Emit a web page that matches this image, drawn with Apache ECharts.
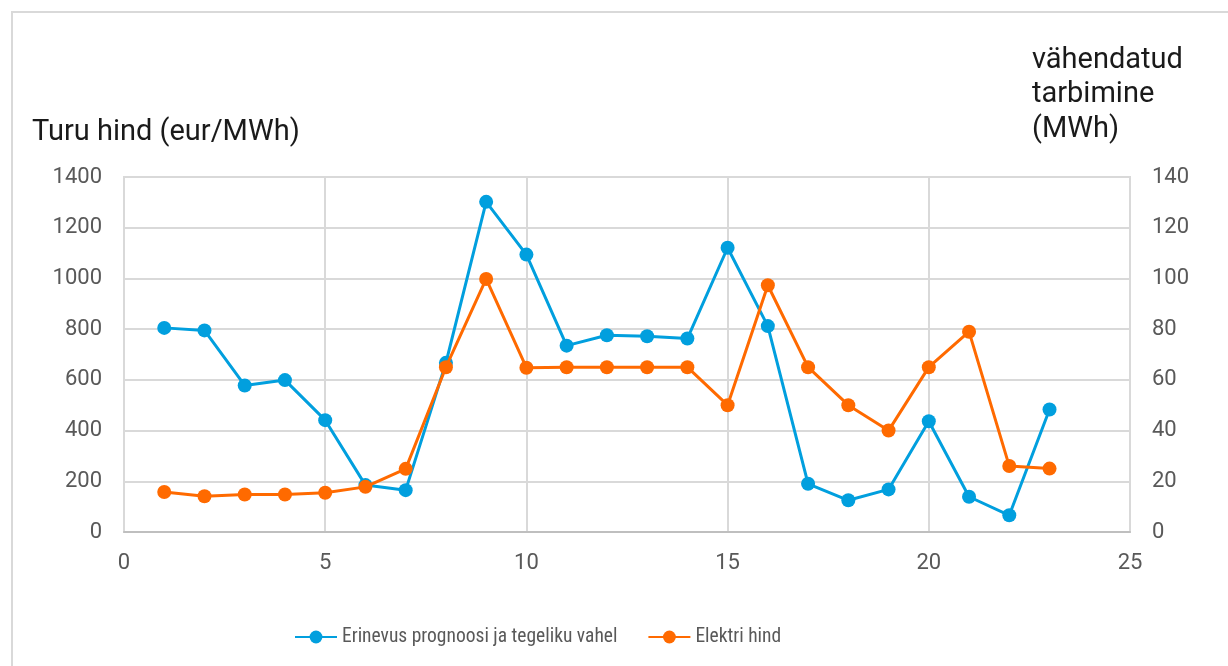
<!DOCTYPE html>
<html>
<head>
<meta charset="utf-8">
<script src="https://cdn.jsdelivr.net/npm/echarts@6/dist/echarts.min.js"></script>
<style>html,body{margin:0;padding:0;background:#fff}#c{width:1228px;height:666px}</style>
</head>
<body>
<div id="c"></div>
<script>
const hours = [1,2,3,4,5,6,7,8,9,10,11,12,13,14,15,16,17,18,19,20,21,22,23];
const diffMWh = [80.5,79.5,57.8,59.9,44.1,18.5,16.5,66.7,130.2,109.4,73.5,77.6,77.2,76.3,112.1,81.2,19.0,12.5,16.8,43.7,13.9,6.6,48.3];
const priceEur = [158,141,148,148,155,178,249,650,998,648,650,650,650,650,500,973,650,500,400,650,790,260,250];
const seriesNames = ['Erinevus prognoosi ja tegeliku vahel','Elektri hind'];
const leftTitle = 'Turu hind (eur/MWh)';
const rightTitle = 'vähendatud\ntarbimine\n(MWh)';

const chart = echarts.init(document.getElementById('c'));
const font = 'Roboto, "Noto Sans", sans-serif';
const narrow = '"Liberation Sans Narrow", "Roboto Condensed", Roboto, sans-serif';
chart.setOption({
  animation:false,
  textStyle:{fontFamily:font},
  graphic:[
    {type:'rect',shape:{x:12,y:12,width:1228,height:700},style:{fill:'none',stroke:'#d9d9d9',lineWidth:2},silent:true},
    {type:'text',left:32,top:118,style:{text:leftTitle,font:'29px '+font,fill:'#1a1a1a'}},
    {type:'text',left:1032,top:43,style:{text:rightTitle,font:'29px '+font,fill:'#1a1a1a',lineHeight:34.5}}
  ],
  legend:{
    bottom:14,left:289,itemGap:30,itemWidth:42,itemHeight:16,
    textStyle:{fontSize:19.5,color:'#595959',fontFamily:narrow},
    data:seriesNames
  },
  grid:{left:124,right:98,top:177,bottom:134,show:true,borderColor:'#d9d9d9',borderWidth:2},
  xAxis:{type:'value',min:0,max:25,interval:5,
    axisLine:{show:true,lineStyle:{color:'#bfbfbf',width:2}},axisTick:{show:false},
    axisLabel:{fontSize:22,color:'#595959',margin:20},
    splitLine:{show:true,lineStyle:{color:'#d9d9d9',width:2}}},
  yAxis:[
    {type:'value',min:0,max:1400,interval:200,position:'left',
     axisLine:{show:false},axisTick:{show:false},
     axisLabel:{fontSize:22,color:'#595959',margin:22,formatter:v=>String(v)},
     splitLine:{show:true,lineStyle:{color:'#d9d9d9',width:2}}},
    {type:'value',min:0,max:140,interval:20,position:'right',
     axisLine:{show:false},axisTick:{show:false},
     axisLabel:{fontSize:22,color:'#595959',margin:22,formatter:v=>String(v)},
     splitLine:{show:false}}
  ],
  series:[
    {name:seriesNames[0],type:'line',yAxisIndex:1,data:hours.map((h,i)=>[h,diffMWh[i]]),
     symbol:'circle',symbolSize:14,itemStyle:{color:'#019FDE'},lineStyle:{width:3,color:'#019FDE'},z:2},
    {name:seriesNames[1],type:'line',yAxisIndex:0,data:hours.map((h,i)=>[h,priceEur[i]]),
     symbol:'circle',symbolSize:14,itemStyle:{color:'#FF6A00'},lineStyle:{width:3,color:'#FF6A00'},z:3}
  ]
});
</script>
</body>
</html>
